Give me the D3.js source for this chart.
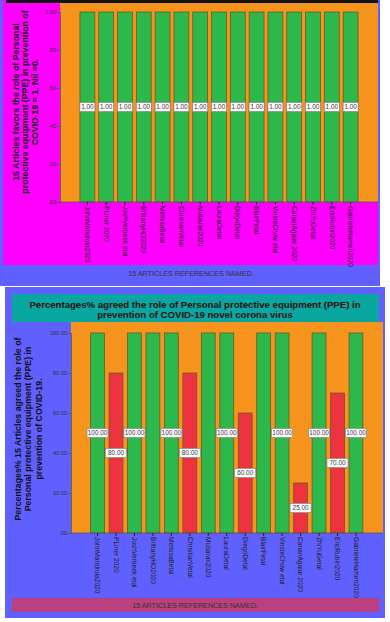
<!DOCTYPE html>
<html>
<head>
<meta charset="utf-8">
<script src="https://cdn.jsdelivr.net/npm/d3@7"></script>
<style>
	body { margin: 0; background: #fff; }
	text { font-family: "Liberation Sans", Arial, sans-serif; }
</style>
</head>
<body>
<div id="chart"></div>
<script>
var articles = ["JohnMandrola2020", "PLiner 2020", "JoshVerbeek etal", "BrittanyHO2020", "MelissaBetal",
                "ChristianVetal", "Mubarak2020", "LauraOetal", "DiegoDetal", "BlairPetal",
                "VinsteChow etal", "CananAgalar 2020", "ZhiYuGetal", "EricRubin2020", "GabrieleHamen2020"];

var favorValues = [1, 1, 1, 1, 1, 1, 1, 1, 1, 1, 1, 1, 1, 1, 1];
var favorTicks = [0, 0.2, 0.4, 0.6, 0.8, 1];

var agreedValues = [100, 80, 100, 100, 100, 80, 100, 100, 60, 100, 100, 25, 100, 70, 100];
var agreedTicks = [0, 20, 40, 60, 80, 100];
// value labels that the original leaves out (overlapping neighbours)
var agreedHidden = ["BrittanyHO2020", "Mubarak2020", "BlairPetal"];

var favorTitle = ["15 Articles favors the role of Personal", "protective equipment (PPE) in prevention of", "COVID-19 = 1, Nil =0."];
var agreedTitle = ["Percentages% 15 Articles agreed the role of", "Personal protective equipment (PPE) in", "prevention of COVID-19."];
var chartTitle = ["Percentages% agreed the role of Personal protective equipment (PPE) in", "prevention of COVID-19 novel corona virus"];
var xTitle = "15 ARTICLES REFERENCES NAMED.";

var green = "#2db84b",
    red = "#ee3340",
    orange = "#f7941d",
    blue = "#6060ff";

var svg = d3.select("#chart").append("svg")
            .attr("width", 390)
            .attr("height", 622);

var drawBars = function(g, values, ticks, hidden, opt) {
	var x = d3.scaleBand().domain(articles).range([opt.x0, opt.x1]).padding(opt.pad),
	    y = d3.scaleLinear().domain([0, opt.max]).range([opt.bottom, opt.top]);

	/* plot background */
	g.append("rect")
	    .attr("x", opt.left).attr("y", opt.plotTop)
	    .attr("width", opt.right - opt.left).attr("height", opt.bottom - opt.plotTop)
	    .attr("fill", orange);

	g.selectAll("rect.bar")
	    .data(values)
	    .enter().append("rect")
	        .attr("class", "bar")
	        .attr("x", function(d, i) { return x(articles[i]); })
	        .attr("y", function(d) { return y(d); })
	        .attr("width", x.bandwidth())
	        .attr("height", function(d) { return opt.bottom - y(d); })
	        .attr("fill", function(d) { return d == opt.max ? green : red; })
	        .attr("stroke", "#6a5a2a")
	        .attr("stroke-width", 0.8);

	/* value labels at mid height */
	var lab = g.selectAll("g.lab")
	    .data(values.map(function(v, i) { return { key: articles[i], value: v }; })
	                .filter(function(d) { return hidden.indexOf(d.key) < 0; }))
	    .enter().append("g")
	        .attr("class", "lab")
	        .attr("transform", function(d) { return "translate(" + (x(d.key) + x.bandwidth() / 2) + "," + y(d.value / 2) + ")"; });

	lab.append("rect")
	    .attr("x", -opt.boxW / 2).attr("y", -4.5)
	    .attr("width", opt.boxW).attr("height", 9)
	    .attr("fill", "#fff")
	    .attr("stroke", "#888")
	    .attr("stroke-width", 0.7);

	lab.append("text")
	    .attr("text-anchor", "middle")
	    .attr("dy", "0.35em")
	    .attr("font-size", 6.4)
	    .attr("fill", "#333")
	    .text(function(d) { return d3.format(".2f")(d.value); });

	/* y axis */
	var yAxis = d3.axisLeft(y).tickValues(ticks).tickSize(3).tickPadding(1)
	                .tickFormat(function(d) { return d3.format(".2f")(d).replace(/^0\./, "."); });
	var ya = g.append("g")
	    .attr("transform", "translate(" + opt.left + ",0)")
	    .call(yAxis);
	ya.select(".domain").attr("stroke", "#555").attr("stroke-width", 0.8);
	ya.selectAll("line").attr("stroke", "#555");
	ya.selectAll("text").attr("font-size", 5.6).attr("fill", "#333").attr("font-family", "Liberation Sans, Arial");

	/* x axis */
	var xAxis = d3.axisBottom(x).tickSize(3).tickPadding(1);
	var xa = g.append("g")
	    .attr("transform", "translate(0," + opt.bottom + ")")
	    .call(xAxis);
	xa.select(".domain")
	    .attr("d", "M" + opt.left + ",0H" + opt.right)
	    .attr("stroke", "#555").attr("stroke-width", 0.8);
	xa.selectAll("line").attr("stroke", "#222");
	xa.selectAll("text")
	    .attr("font-size", 6.6)
	    .attr("fill", "#222")
	    .attr("font-family", "Liberation Sans, Arial")
	    .attr("text-anchor", "start")
	    .attr("transform", "rotate(90)")
	    .attr("x", 4)
	    .attr("y", 0)
	    .attr("dy", "0.35em");

	/* y title */
	var yt = g.append("text")
	    .attr("transform", "translate(" + opt.titleX + "," + opt.titleY + ") rotate(-90)")
	    .attr("text-anchor", "middle")
	    .attr("font-weight", "bold")
	    .attr("font-size", opt.titleSize)
	    .attr("fill", "#111");
	yt.selectAll("tspan")
	    .data(opt.title)
	    .enter().append("tspan")
	        .attr("x", 0)
	        .attr("y", function(d, i) { return i * opt.titleGap; })
	        .text(function(d) { return d; });
};

/* Part 1 */
var p1 = svg.append("g");
p1.append("rect").attr("x", 0).attr("y", 0).attr("width", 380).attr("height", 286).attr("fill", blue);
p1.append("rect").attr("x", 3).attr("y", 0).attr("width", 375).attr("height", 265).attr("fill", "#ff00ff");
drawBars(p1, favorValues, favorTicks, [], {
	x0: 76, x1: 362, pad: 0.21, max: 1,
	left: 60, right: 378, plotTop: 3, top: 12, bottom: 202,
	boxW: 15, title: favorTitle, titleX: 18.5, titleY: 102, titleSize: 8.8, titleGap: 9.6
});
p1.append("rect").attr("x", 6).attr("y", 0).attr("width", 372).attr("height", 3).attr("fill", "#111");
p1.append("text")
    .attr("x", 191).attr("y", 276)
    .attr("text-anchor", "middle")
    .attr("font-size", 7.2)
    .attr("fill", "#333")
    .text(xTitle);

/* Part 2 */
var p2 = svg.append("g");
p2.append("rect").attr("x", 5).attr("y", 287).attr("width", 380).attr("height", 331).attr("fill", blue);
p2.append("rect").attr("x", 12).attr("y", 294).attr("width", 367).attr("height", 28).attr("fill", "#0aa6a0");
p2.append("text")
    .attr("text-anchor", "middle")
    .attr("font-weight", "bold")
    .attr("font-size", 9.6)
    .attr("fill", "#111")
    .selectAll("tspan")
    .data(chartTitle)
    .enter().append("tspan")
        .attr("x", 195)
        .attr("y", function(d, i) { return 308 + i * 10; })
        .text(function(d) { return d; });
drawBars(p2, agreedValues, agreedTicks, agreedHidden, {
	x0: 86, x1: 367.5, pad: 0.25, max: 100,
	left: 71, right: 383, plotTop: 322, top: 333, bottom: 533,
	boxW: 21, title: agreedTitle, titleX: 20.5, titleY: 429, titleSize: 8.8, titleGap: 10.5
});
p2.append("rect").attr("x", 12).attr("y", 598).attr("width", 367).attr("height", 14).attr("fill", "#bb4080");
p2.append("text")
    .attr("x", 195).attr("y", 608)
    .attr("text-anchor", "middle")
    .attr("font-size", 7.2)
    .attr("fill", "#333")
    .text(xTitle);
</script>
</body>
</html>
